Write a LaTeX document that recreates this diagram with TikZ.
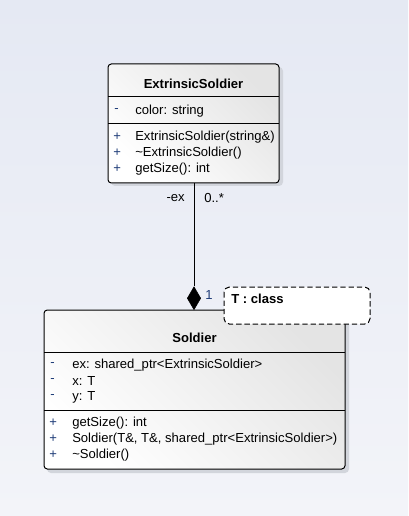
\documentclass[tikz,border=0pt]{standalone}
\usepackage{fontspec}
\setmainfont{Liberation Sans}
\usetikzlibrary{shapes.geometric,shadows}
\definecolor{bgtop}{HTML}{E5E9F3}
\definecolor{bgbot}{HTML}{F3F4F9}
\definecolor{visblue}{HTML}{1E3C78}
\definecolor{boxgrey}{HTML}{E4E4E4}
\definecolor{shadowc}{HTML}{D2D5DC}
\tikzset{
  x=0.75pt, y=-0.75pt,
  umlbox/.style={draw=black, line width=0.75pt, rounded corners=2.5pt,
    left color=white, right color=boxgrey, shading angle=135},
  sep/.style={draw=black, line width=0.75pt},
  txt/.style={anchor=west, inner sep=0pt, font=\fontsize{9.8}{11}\selectfont},
  vis/.style={txt, text=visblue},
  title/.style={inner sep=0pt, font=\fontsize{9.8}{11}\selectfont\bfseries},
  lbl/.style={inner sep=0pt, font=\fontsize{9.8}{11}\selectfont},
}
\begin{document}
\begin{tikzpicture}
\shade[top color=bgtop, bottom color=bgbot] (0,0) rectangle (408,516);
\useasboundingbox (0,0) rectangle (408,516);

% ExtrinsicSoldier
\fill[shadowc, rounded corners=3pt] (111,67) rectangle (283,186);
\path[umlbox] (108,64) rectangle (279,183);
\draw[sep] (108,97) -- (279,97);
\draw[sep] (108,124) -- (279,124);
\node[title] (es-title) at (193.5,84) {ExtrinsicSoldier};
\node[vis] (es-a1v) at (114,111) {-};
\node[txt] (es-a1) at (135,111) {color: string};
\node[vis] (es-m1v) at (113,137) {+};
\node[txt] (es-m1) at (135,137) {ExtrinsicSoldier(string\&)};
\node[vis] (es-m2v) at (113,153) {+};
\node[txt] (es-m2) at (135,153) {\char`\~ExtrinsicSoldier()};
\node[vis] (es-m3v) at (113,169) {+};
\node[txt] (es-m3) at (135,169) {getSize(): int};
\coordinate (es-bot) at (194,183);

% Soldier
\fill[shadowc, rounded corners=3pt] (47,313) rectangle (349,473);
\path[umlbox] (44,310) rectangle (345,469);
\draw[sep] (44,352) -- (345,352);
\draw[sep] (44,410) -- (345,410);
\node[title] (s-title) at (194.5,338) {Soldier};
\node[vis] (s-a1v) at (50,365) {-};
\node[txt] (s-a1) at (72,365) {ex: shared\_ptr<ExtrinsicSoldier>};
\node[vis] (s-a2v) at (50,381) {-};
\node[txt] (s-a2) at (72,381) {x: T};
\node[vis] (s-a3v) at (50,397) {-};
\node[txt] (s-a3) at (72,397) {y: T};
\node[vis] (s-m1v) at (49,423) {+};
\node[txt] (s-m1) at (72,423) {getSize(): int};
\node[vis] (s-m2v) at (49,439) {+};
\node[txt] (s-m2) at (72,439) {Soldier(T\&, T\&, shared\_ptr<ExtrinsicSoldier>)};
\node[vis] (s-m3v) at (49,455) {+};
\node[txt] (s-m3) at (72,455) {\char`\~Soldier()};
\coordinate (s-top) at (194,310);

% composition
\node[diamond, fill=black, draw=black, inner sep=0pt, minimum width=13.5*0.75pt,
  minimum height=23*0.75pt, anchor=south] (dia) at (s-top) {};
\draw[line width=0.75pt] (es-bot) -- (dia.north);
\node[lbl, anchor=east] (l-ex) at (185,198) {-ex};
\node[lbl, anchor=west] (l-mult) at (204,198) {0..*};
\node[lbl, anchor=west, text=visblue] (l-one) at (205,295) {1};

% template parameter
\path[fill=white, draw=black, line width=0.75pt, dashed, dash pattern=on 4pt off 2.2pt,
  rounded corners=4pt] (224,287) rectangle (370,324);
\node[title, anchor=west] (tparam) at (231,299) {T : class};
\end{tikzpicture}
\end{document}
